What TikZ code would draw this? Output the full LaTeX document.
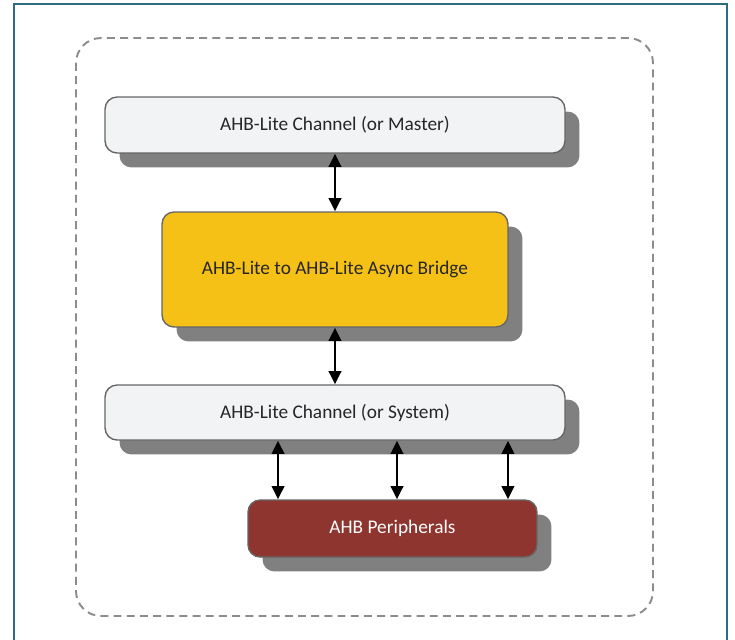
\documentclass[tikz,border=0pt]{standalone}
\usepackage{fontspec}
\setmainfont{Carlito}
\usetikzlibrary{arrows.meta,shadows}
\definecolor{framecol}{HTML}{2E6A80}
\definecolor{boxgray}{HTML}{F2F3F5}
\definecolor{bridgeyel}{HTML}{F6C117}
\definecolor{periphred}{HTML}{8E3530}
\definecolor{shadowgray}{HTML}{808080}
\tikzset{
  every picture/.style={line width=0.75pt},
  blockbox/.style={draw=black!60, rounded corners=0.24cm, line width=0.8pt,
    font=\fontsize{11}{13}\selectfont, text=black!85,
    drop shadow={shadow xshift=0.29cm, shadow yshift=-0.29cm, fill=shadowgray, opacity=1}},
  biarrow/.style={{Triangle[length=7.5pt,width=7pt]}-{Triangle[length=7.5pt,width=7pt]}, line width=1.6pt, black}
}

\begin{document}
\begin{tikzpicture}[x=0.02cm, y=-0.02cm]
    % 画布与外框
    \clip (0,0) rectangle (735,640);
    \fill[white] (0,0) rectangle (735,640);
    \draw[framecol, line width=1.5pt] (14,4) rectangle (727,660);

    % 虚线圆角框
    \draw[black!45, line width=1.1pt, dash pattern=on 4.5pt off 3pt, rounded corners=0.5cm]
        (76,38) rectangle (653,616);

    % 各模块
    \node[blockbox, fill=boxgray, minimum width=9.2cm, minimum height=1.12cm]
        (master) at (335,125) {AHB-Lite Channel (or Master)};
    \node[blockbox, fill=bridgeyel, minimum width=6.92cm, minimum height=2.3cm]
        (bridge) at (335,269.5) {AHB-Lite to AHB-Lite Async Bridge};
    \node[blockbox, fill=boxgray, minimum width=9.2cm, minimum height=1.1cm]
        (system) at (335,412.5) {AHB-Lite Channel (or System)};
    \node[blockbox, fill=periphred, text=white, minimum width=5.78cm, minimum height=1.14cm]
        (periph) at (392.5,528.5) {AHB Peripherals};

    % 双向连接
    \draw[biarrow] (master.south) -- (bridge.north);
    \draw[biarrow] (bridge.south) -- (system.north);
    \foreach \dx [count=\i] in {-2.29,0.09,2.31} {
        \path ([xshift=\dx cm]periph.north) coordinate (bus\i);
        \draw[biarrow] (bus\i |- system.south) -- (bus\i);
    }
\end{tikzpicture}
\end{document}
